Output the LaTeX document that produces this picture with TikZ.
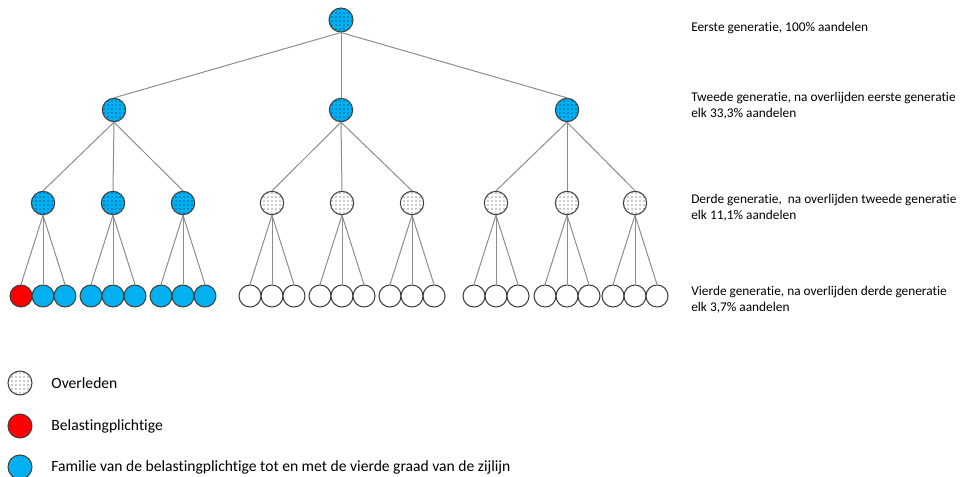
\documentclass[tikz,border=0pt]{standalone}
\usepackage{fontspec}
\setmainfont{Carlito}[Ligatures=NoCommon]
\usetikzlibrary{patterns,positioning}
\definecolor{famblue}{HTML}{00B0F0}
\definecolor{taxred}{HTML}{FF0000}
\definecolor{ringgray}{HTML}{404040}
\definecolor{linkgray}{HTML}{8C8C8C}
\tikzset{
  person/.style={circle, draw=ringgray, line width=0.8pt, inner sep=0pt, minimum size=17.5pt},
  leaf/.style={person, minimum size=16.5pt},
  family/.style={fill=famblue},
  taxpayer/.style={fill=taxred},
  deceased/.style={preaction={fill=white}, pattern=dots, pattern color=black!85},
  famdeceased/.style={preaction={fill=famblue}, pattern=dots, pattern color=blue!30!black},
  link/.style={draw=linkgray, line width=0.75pt},
  gentext/.style={anchor=west, align=left, inner sep=0pt, font=\fontsize{10}{12}\selectfont},
  legendtext/.style={anchor=west, inner sep=0pt, font=\fontsize{11.7}{14}\selectfont}
}

\begin{document}
\begin{tikzpicture}[x=0.75pt, y=-0.75pt]
  \useasboundingbox (0,0) rectangle (962,477);
  \node[person, famdeceased, minimum size=18pt] (g1) at (341,20) {};
  \node[person, famdeceased] (g2a) at (114,110) {};
  \node[person, famdeceased] (g2b) at (341,110) {};
  \node[person, famdeceased] (g2c) at (567,110) {};
  \draw[link] (g1.south) -- (g2a.north);
  \draw[link] (g1.south) -- (g2b.north);
  \draw[link] (g1.south) -- (g2c.north);
  \foreach \i/\x/\p in {1/43/a,2/113/a,3/183/a}{
    \node[person, famdeceased] (g3-\i) at (\x,203) {};
    \draw[link] (g2\p.south) -- (g3-\i.north);
  }
  \foreach \i/\x/\p in {4/272/b,5/342/b,6/412/b,7/496/c,8/567/c,9/635/c}{
    \node[person, deceased] (g3-\i) at (\x,203) {};
    \draw[link] (g2\p.south) -- (g3-\i.north);
  }
  \foreach \i/\x in {1/43,2/113,3/183,4/272,5/342,6/412,7/496,8/567,9/635}{
    \foreach \k/\d in {1/-22,2/0,3/22}{
      \ifnum\i<4 \def\shade{famblue}\else\def\shade{white}\fi
      \ifnum\i\k=11 \def\shade{taxred}\fi
      \node[leaf, fill=\shade] (g4-\i-\k) at (\x+\d,296) {};
      \draw[link] (g3-\i.south) -- (g4-\i-\k.north);
    }
  }
  \node[gentext] (t1) at (691,28) {Eerste generatie, 100\% aandelen};
  \node[gentext] (t2) at (691,106) {Tweede generatie, na overlijden eerste generatie\\elk 33,3\% aandelen};
  \node[gentext] (t3) at (691,208) {Derde generatie,\ \ na overlijden tweede generatie\\elk 11,1\% aandelen};
  \node[gentext] (t4) at (691,300) {Vierde generatie, na overlijden derde generatie\\elk 3,7\% aandelen};
  \node[person, deceased, minimum size=18pt] (lg1) at (20,383) {};
  \node[person, taxpayer, minimum size=18pt] (lg2) at (20,426) {};
  \node[person, family, minimum size=18pt] (lg3) at (20,467) {};
  \node[legendtext, right=14pt of lg1] (lt1) {Overleden};
  \node[legendtext, right=14pt of lg2] (lt2) {Belastingplichtige};
  \node[legendtext, right=14pt of lg3] (lt3) {Familie van de belastingplichtige tot en met de vierde graad van de zijlijn};
\end{tikzpicture}
\end{document}
